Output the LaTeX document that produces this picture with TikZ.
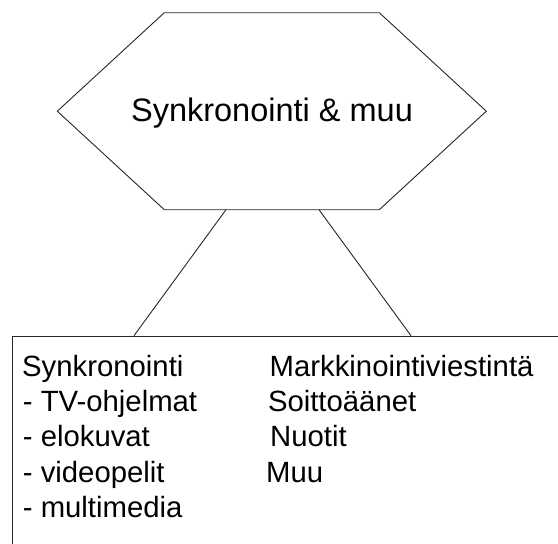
\documentclass[tikz,border=0pt]{standalone}
\usepackage{fontspec}
\setmainfont{Liberation Sans}
\begin{document}
\begin{tikzpicture}[x=1pt,y=-1pt,
  outline/.style={draw=black!85,line width=0.9pt},
  titletext/.style={font=\fontsize{32.5}{38}\selectfont,inner sep=0pt},
  bodytext/.style={font=\fontsize{29.3}{35.25}\selectfont,inner sep=0pt,anchor=base west}]
  \useasboundingbox (0,0) rectangle (558,544);
  \clip (0,0) rectangle (558,544);

  % hexagon corners
  \coordinate (hexTL) at (164.3,12.7);
  \coordinate (hexTR) at (379.3,12.7);
  \coordinate (hexR)  at (486.3,111.2);
  \coordinate (hexBR) at (379.3,209.7);
  \coordinate (hexBL) at (164.3,209.7);
  \coordinate (hexL)  at (57.3,111.2);
  \draw[outline,line join=miter] (hexTL) -- (hexTR) -- (hexR) -- (hexBR) -- (hexBL) -- (hexL) -- cycle;
  \node[titletext,anchor=base] (title) at (272,121.7) {Synkronointi \& muu};

  % lower box, running past the right and bottom edges
  \node[outline,anchor=north west,minimum width=600pt,minimum height=260pt,inner sep=0pt] (box) at (11.5,335.7) {};

  % connector end points
  \coordinate (upL) at (226,209.7);
  \coordinate (upR) at (319,209.7);
  \coordinate (lowL) at (134,335.7);
  \coordinate (lowR) at (411,335.7);
  \draw[outline] (upL) -- (lowL);
  \draw[outline] (upR) -- (lowR);

  % left column
  \node[bodytext] (a1) at (22,376.5) {Synkronointi};
  \node[bodytext] (a2) at (22.7,411.5) {- TV-ohjelmat};
  \node[bodytext] (a3) at (22.7,446.8) {- elokuvat};
  \node[bodytext] (a4) at (22.7,482) {- videopelit};
  \node[bodytext] (a5) at (22.7,517) {- multimedia};
  % right column
  \node[bodytext] (b1) at (269.5,376.5) {Markkinointiviestintä};
  \node[bodytext] (b2) at (267.8,411.5) {Soittoäänet};
  \node[bodytext] (b3) at (270,446.8) {Nuotit};
  \node[bodytext] (b4) at (266,482) {Muu};
\end{tikzpicture}
\end{document}
